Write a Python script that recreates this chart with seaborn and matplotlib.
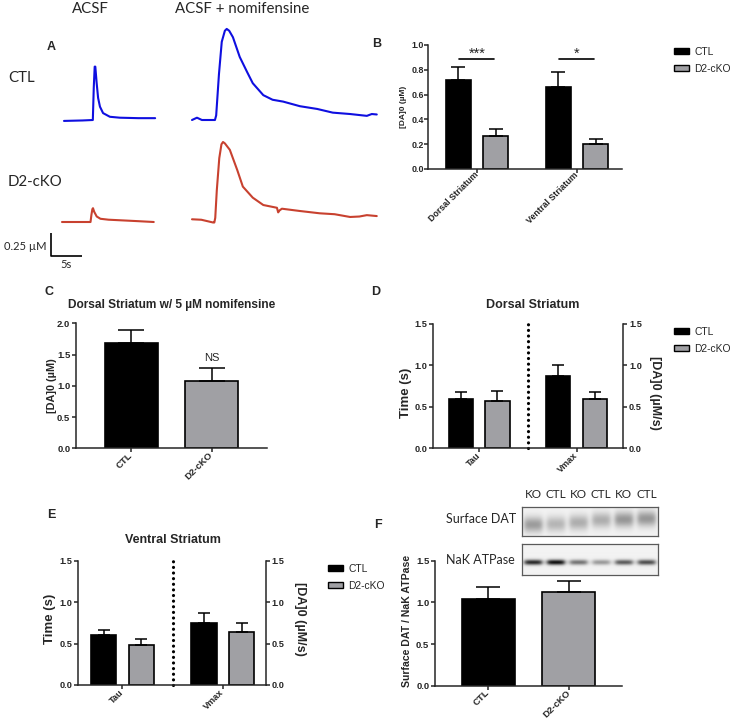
import numpy as np
import pandas as pd
import seaborn as sns
import matplotlib.pyplot as plt
from matplotlib.patches import Patch

# ---- Panel A: example traces (time in s, [DA] in uM above baseline)
ctl_acsf_t = [0, 3.0, 4.65, 4.8, 4.95, 5.05, 5.27, 5.5, 5.8, 6.3, 7.4, 9.0, 12.0, 14.7]
ctl_acsf_v = [-0.01, -0.005, 0.0, 0.35, 0.58, 0.58, 0.40, 0.24, 0.145, 0.075, 0.035, 0.025, 0.02, 0.02]
ctl_nomi_t = [0, 0.8, 1.6, 3.7, 3.9, 4.35, 4.8, 5.3, 5.6, 6.0, 6.6, 7.7, 8.9, 9.8, 11.5, 13.0,
              14.7, 17.4, 20.2, 22.7, 25.5, 28.2, 29.0, 29.8]
ctl_nomi_v = [0.0, 0.025, 0.0, 0.0, 0.05, 0.5, 0.85, 0.97, 0.99, 0.97, 0.90, 0.685, 0.52, 0.40, 0.27, 0.22,
              0.20, 0.15, 0.12, 0.08, 0.065, 0.045, 0.065, 0.06]
d2_acsf_t = [0, 3.0, 4.6, 4.75, 4.9, 5.0, 5.2, 5.6, 6.2, 7.5, 9.0, 12.0, 14.8]
d2_acsf_v = [0.0, 0.0, 0.0, 0.08, 0.14, 0.15, 0.11, 0.06, 0.035, 0.025, 0.02, 0.01, 0.0]
d2_nomi_t = [0, 1.5, 3.4, 3.6, 3.75, 4.0, 4.4, 4.75, 5.0, 5.3, 6.1, 7.3, 8.2, 9.8, 11.5, 13.7, 13.9,
             14.1, 14.5, 17.4, 20.6, 23.0, 25.5, 27.0, 28.2, 29.8]
d2_nomi_v = [0.035, 0.03, 0.0, 0.0, 0.05, 0.35, 0.7, 0.85, 0.875, 0.86, 0.79, 0.57, 0.39, 0.27, 0.19, 0.16, 0.11,
             0.13, 0.15, 0.125, 0.10, 0.09, 0.06, 0.065, 0.08, 0.07]

# ---- Panel B: [DA]0 by region
regions = ['Dorsal Striatum', 'Ventral Striatum']
b_ctl, b_ctl_err = [0.72, 0.665], [0.10, 0.12]
b_ko, b_ko_err = [0.27, 0.205], [0.05, 0.04]
b_stars = ['***', '*']

# ---- Panel C: dorsal striatum with nomifensine
genotypes = ['CTL', 'D2-cKO']
c_mean, c_err = [1.68, 1.07], [0.22, 0.21]

# ---- Panels D/E: Tau and Vmax
params = ['Tau', 'Vmax']
d_ctl, d_ctl_err = [0.59, 0.87], [0.09, 0.135]
d_ko, d_ko_err = [0.575, 0.59], [0.115, 0.085]
e_ctl, e_ctl_err = [0.60, 0.75], [0.065, 0.115]
e_ko, e_ko_err = [0.485, 0.645], [0.065, 0.10]

# ---- Panel F: surface DAT / NaK ATPase
f_mean, f_err = [1.04, 1.12], [0.14, 0.14]
lanes = ['KO', 'CTL', 'KO', 'CTL', 'KO', 'CTL']
dat_band = [0.34, 0.24, 0.27, 0.27, 0.36, 0.36]
dat_band_y = [0.62, 0.60, 0.55, 0.47, 0.45, 0.42]
nak_band = [0.80, 0.90, 0.50, 0.35, 0.60, 0.65]

BLACK, GRAY = '#000000', '#a0a0a4'
BLUE, RED = '#0f0fe0', '#c8412f'
W, H = 732, 722

sns.set_style('ticks')
plt.rcParams['font.family'] = ['Liberation Sans', 'DejaVu Sans']
plt.rcParams['axes.linewidth'] = 1.1

fig = plt.figure(figsize=(W / 100, H / 100), dpi=100)


def px_axes(l, t, r, b):
    return fig.add_axes([l / W, 1 - b / H, (r - l) / W, (b - t) / H])


def ftext(x, y, s, **kw):
    kw.setdefault('ha', 'center')
    kw.setdefault('va', 'center')
    return fig.text(x / W, 1 - y / H, s, **kw)


def add_err(ax, x, y, err, capsize):
    ax.errorbar(x, y, yerr=[[0], [err]], fmt='none', ecolor='black',
                elinewidth=1.1, capsize=capsize, capthick=1.1, zorder=3)


def style_axes(ax, ylim, yticks, xlim, fs=6.6, pad=1.5):
    ax.set_xlim(*xlim)
    ax.set_ylim(*ylim)
    ax.set_yticks(yticks)
    ax.set_yticklabels([f'{v:.1f}' for v in yticks], fontweight='bold')
    sns.despine(ax=ax)
    ax.tick_params(direction='out', length=2.6, width=1.1, labelsize=fs, pad=pad)
    plt.setp(ax.get_xticklabels(), rotation=45, ha='right', va='center',
             rotation_mode='anchor', fontweight='bold')
    ax.set_xlabel('')
    ax.set_ylabel('')


def grouped_bars(ax, cats, ctl, ctl_err, ko, ko_err, capsize):
    df = pd.DataFrame({'cat': cats * 2,
                       'geno': ['CTL'] * len(cats) + ['D2-cKO'] * len(cats),
                       'val': list(ctl) + list(ko)})
    errs = dict(zip(zip(df['cat'], df['geno']), list(ctl_err) + list(ko_err)))
    sns.barplot(data=df, x='cat', y='val', hue='geno', palette=[BLACK, GRAY],
                width=0.75, gap=1 / 3, edgecolor='black', linewidth=1.2,
                errorbar=None, legend=False, ax=ax)
    for p in ax.patches:
        cx = p.get_x() + p.get_width() / 2
        i = int(round(cx))
        geno = 'CTL' if cx < i else 'D2-cKO'
        add_err(ax, cx, p.get_height(), errs[(cats[i], geno)], capsize)


def single_bars(ax, cats, vals, errs, capsize):
    sns.barplot(x=cats, y=vals, hue=cats, palette=[BLACK, GRAY], width=0.66,
                edgecolor='black', linewidth=1.2, errorbar=None, legend=False, ax=ax)
    for p in ax.patches:
        cx = p.get_x() + p.get_width() / 2
        add_err(ax, cx, p.get_height(), errs[int(round(cx))], capsize)


def legend_at(x, y):
    handles = [Patch(facecolor=BLACK, edgecolor='black', lw=1),
               Patch(facecolor=GRAY, edgecolor='black', lw=1)]
    fig.legend(handles, genotypes, loc='upper left', bbox_to_anchor=(x / W, 1 - y / H),
               frameon=False, fontsize=7.4, handlelength=1.5, handleheight=0.52,
               handletextpad=0.5, labelspacing=0.68, borderpad=0, borderaxespad=0)


# ================= Panel A =================
axA = px_axes(40, 20, 390, 275)
axA.set_xlim(0, 350 / 6.2)
axA.set_ylim(0, 255 / 92)
axA.axis('off')
traces = [(ctl_acsf_t, ctl_acsf_v, BLUE, 64, 120),
          (ctl_nomi_t, ctl_nomi_v, BLUE, 192, 120),
          (d2_acsf_t, d2_acsf_v, RED, 62, 222),
          (d2_nomi_t, d2_nomi_v, RED, 192, 222.5)]
for t, v, col, x0, y0 in traces:
    sns.lineplot(x=np.array(t) + (x0 - 40) / 6.2, y=np.array(v) + (275 - y0) / 92,
                 color=col, linewidth=1.5, estimator=None, ax=axA)
sx, sy = (51 - 40) / 6.2, (275 - 256) / 92
axA.plot([sx, sx, sx + 5], [sy + 0.25, sy, sy], color='black', lw=1.2, solid_capstyle='butt')
ftext(46, 247, '0.25 µM', ha='right', fontsize=8, family='Lato')
ftext(66, 265, '5s', fontsize=8, family='Lato')
ftext(90, 9, 'ACSF', fontsize=10.8, family='Lato')
ftext(242, 9, 'ACSF + nomifensine', fontsize=10.8, family='Lato')
ftext(8, 78, 'CTL', ha='left', fontsize=10.8, family='Lato')
ftext(8, 182, 'D2-cKO', ha='left', fontsize=10.8, family='Lato')
ftext(51, 47, 'A', fontsize=9, fontweight='bold')

# ================= Panel B =================
axB = px_axes(428, 45, 622, 169)
grouped_bars(axB, regions, b_ctl, b_ctl_err, b_ko, b_ko_err, capsize=4.8)
style_axes(axB, (0, 1.0), [0, 0.2, 0.4, 0.6, 0.8, 1.0], (-0.49, 1.45), fs=6.4, pad=0.4)
for i, s in enumerate(b_stars):
    axB.plot([i - 0.18, i + 0.17], [0.885, 0.885], color='black', lw=1.2)
    axB.text(i, 0.875, s, ha='center', va='bottom', fontsize=10.5)
ftext(404, 107, '[DA]0 (µM)', rotation=90, fontsize=6, fontweight='bold')
ftext(377, 44, 'B', fontsize=9, fontweight='bold')
legend_at(674, 47)

# ================= Panel C =================
axC = px_axes(76, 323.3, 267, 448.3)
single_bars(axC, genotypes, c_mean, c_err, capsize=9.4)
style_axes(axC, (0, 2.0), [0, 0.5, 1.0, 1.5, 2.0], (-0.69, 1.69), fs=6.8)
axC.text(1, c_mean[1] + c_err[1] + 0.09, 'NS', ha='center', va='bottom', fontsize=8)
ftext(52, 386, '[DA]0 (µM)', rotation=90, fontsize=7.8, fontweight='bold')
ftext(172, 305, 'Dorsal Striatum w/ 5 µM nomifensine', fontsize=8.6, fontweight='bold')
ftext(49, 292, 'C', fontsize=9, fontweight='bold')


# ================= Panels D / E =================
def kinetics_panel(box, ctl, ctl_err, ko, ko_err, xlim, title, title_xy, lab_x, lab_y):
    ax = px_axes(*box)
    grouped_bars(ax, params, ctl, ctl_err, ko, ko_err, capsize=4.3)
    ticks = [0, 0.5, 1.0, 1.5]
    style_axes(ax, (0, 1.5), ticks, xlim)
    ax.plot([0.5, 0.5], [0, 1.5], color='black', lw=2.3, linestyle=(0, (0.01, 1.75)),
            dash_capstyle='round', clip_on=False)
    ax2 = ax.twinx()
    ax2.set_ylim(0, 1.5)
    ax2.set_yticks(ticks)
    ax2.set_yticklabels([f'{v:.1f}' for v in ticks], fontweight='bold')
    for side in ['top', 'left', 'bottom']:
        ax2.spines[side].set_visible(False)
    ax2.tick_params(direction='out', length=2.6, width=1.1, labelsize=6.6, pad=1.5)
    ftext(*title_xy, title, fontsize=9, fontweight='bold')
    ftext(lab_x[0], lab_y, 'Time (s)', rotation=90, fontsize=9.5, fontweight='bold')
    ftext(lab_x[1], lab_y, '[DA]0 (µM/s)', rotation=270, fontsize=9, fontweight='bold')
    return ax


kinetics_panel((433.3, 324, 623.3, 448.3), d_ctl, d_ctl_err, d_ko, d_ko_err, (-0.47, 1.48),
               'Dorsal Striatum', (533, 305), (406, 655), 393)
ftext(376, 292, 'D', fontsize=9, fontweight='bold')
legend_at(674, 327)

kinetics_panel((78.3, 560.7, 266, 685), e_ctl, e_ctl_err, e_ko, e_ko_err, (-0.44, 1.43),
               'Ventral Striatum', (173, 540), (50, 300), 619)
ftext(51, 515, 'E', fontsize=9, fontweight='bold')
legend_at(328, 564)

# ================= Panel F =================
axF = px_axes(435, 560.7, 622, 685.7)
single_bars(axF, genotypes, f_mean, f_err, capsize=8.4)
style_axes(axF, (0, 1.5), [0, 0.5, 1.0, 1.5], (-0.66, 1.66), fs=6.8)
ftext(407, 621, 'Surface DAT / NaK ATPase', rotation=90, fontsize=7.6, fontweight='bold')
ftext(378, 525, 'F', fontsize=9, fontweight='bold')


def blot(box, dark, rows, sigma, halfw):
    ax = px_axes(*box)
    ny, nx = 60, 272
    yy = (np.arange(ny) + 0.5) / ny
    xx = (np.arange(nx) + 0.5) / nx * len(dark)
    img = np.full((ny, nx), 0.95)
    for i, (d, r) in enumerate(zip(dark, rows)):
        hprof = 1 / (1 + np.exp((np.abs(xx - (i + 0.5)) - halfw) / 0.06))
        vprof = np.exp(-0.5 * ((yy - r) / sigma) ** 2)
        img -= d * np.outer(vprof, hprof)
    ax.imshow(img, cmap='gray', vmin=0, vmax=1, aspect='auto', interpolation='bilinear')
    ax.set_xticks([])
    ax.set_yticks([])
    for s in ax.spines.values():
        s.set_color('#5a5a5a')
        s.set_linewidth(0.9)
    return ax


axDat = blot((521.7, 506.7, 657.7, 536), dat_band, dat_band_y, 0.18, 0.40)
axNak = blot((521.7, 544.3, 657.7, 575), nak_band, [0.59] * 6, 0.06, 0.38)
for i, lab in enumerate(lanes):
    axDat.text((i + 0.5) / len(lanes), 1.4, lab, transform=axDat.transAxes,
               ha='center', va='center', fontsize=8.5, family='Lato')
ftext(446, 519, 'Surface DAT', ha='left', fontsize=9, family='Lato')
ftext(446, 560, 'NaK ATPase', ha='left', fontsize=9, family='Lato')

fig.savefig('out.png', dpi=100)
